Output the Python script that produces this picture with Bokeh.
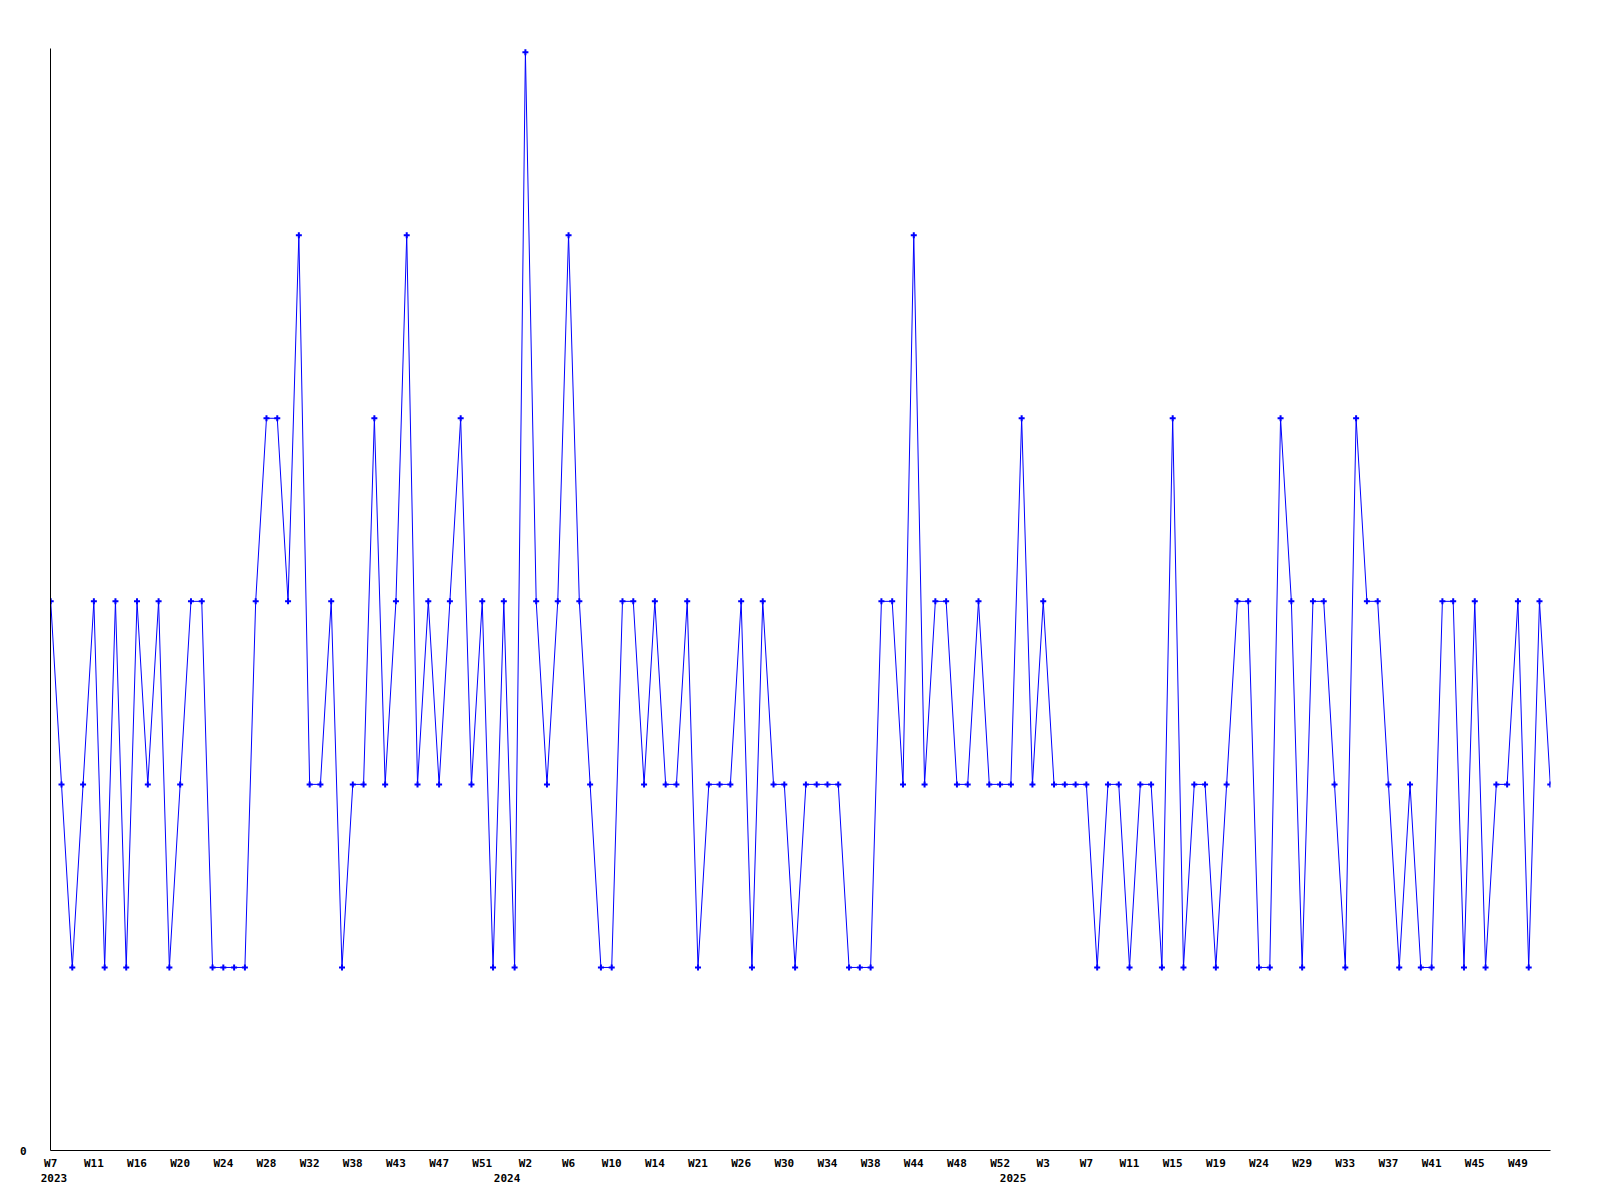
from bokeh.plotting import figure
from bokeh.models import Range1d, FixedTicker, ColumnDataSource, LinearAxis
from bokeh.embed import file_html
from bokeh.resources import INLINE

# weekly values, 2023 W7 onwards (140 samples)
values = [
    3, 2, 1, 2, 3, 1, 3, 1, 3, 2, 3, 1, 2, 3, 3, 1, 1, 1, 1, 3, 4, 4, 3, 5, 2,
    2, 3, 1, 2, 2, 4, 2, 3, 5, 2, 3, 2, 3, 4, 2, 3, 1, 3, 1, 6, 3, 2, 3, 5,
    3, 2, 1, 1, 3, 3, 2, 3, 2, 2, 3, 1, 2, 2, 2, 3, 1, 3, 2, 2, 1, 2, 2, 2,
    2, 1, 1, 1, 3, 3, 2, 5, 2, 3, 3, 2, 2, 3, 2, 2, 2, 4, 2, 3, 2, 2, 2, 2,
    1, 2, 2, 1, 2, 2, 1, 4, 1, 2, 2, 1, 2, 3, 3, 1, 1, 4, 3, 1, 3, 3, 2, 1,
    4, 3, 3, 2, 1, 2, 1, 1, 3, 3, 1, 3, 1, 2, 2, 3, 1, 3, 2,
]

tick_labels = [
    "W7", "W11", "W16", "W20", "W24", "W28", "W32", "W38", "W43", "W47", "W51",
    "W2", "W6", "W10", "W14", "W21", "W26", "W30", "W34", "W38", "W44", "W48", "W52",
    "W3", "W7", "W11", "W15", "W19", "W24", "W29", "W33", "W37", "W41", "W45", "W49",
]
tick_step = 4
year_labels = ["2023", "2024", "2025"]
year_positions = [0.3, 42.3, 89.2]   # along the sample index, where each year starts

x = list(range(len(values)))
src = ColumnDataSource(data=dict(x=x, y=values))

p = figure(width=1590, height=1190, output_backend="svg", toolbar_location=None,
           x_range=Range1d(-0.02, len(values) - 1 + 0.02),
           y_range=Range1d(0, 6.02),
           min_border_left=50, min_border_right=40, min_border_top=48,
           min_border_bottom=40)
p.outline_line_color = None
p.xgrid.visible = False
p.ygrid.visible = False
p.background_fill_color = "white"

p.line("x", "y", source=src, line_color="#0000ff", line_width=1)
p.scatter("x", "y", source=src, marker="cross", size=6, line_color="#0000ff",
          line_width=2)

ticks = [i * tick_step for i in range(len(tick_labels))]
p.xaxis.ticker = FixedTicker(ticks=ticks)
p.xaxis.major_label_overrides = {t: lab for t, lab in zip(ticks, tick_labels)}
p.yaxis.ticker = FixedTicker(ticks=[0])

year_axis = LinearAxis(ticker=FixedTicker(ticks=year_positions),
                       major_label_overrides={t: lab for t, lab in zip(year_positions, year_labels)})
p.add_layout(year_axis, "below")

for ax in (p.xaxis[0], year_axis, p.yaxis[0]):
    ax.major_tick_out = 0
    ax.major_tick_in = 0
    ax.minor_tick_out = 0
    ax.minor_tick_in = 0
    ax.major_label_text_font = "DejaVu Sans Mono"
    ax.major_label_text_font_style = "bold"
    ax.major_label_text_font_size = "11px"
    ax.major_label_text_color = "black"

for ax in (p.xaxis[0], p.yaxis[0]):
    ax.axis_line_color = "black"
    ax.axis_line_width = 1
year_axis.axis_line_color = None

p.xaxis[0].major_label_standoff = 6
year_axis.major_label_standoff = 1
p.yaxis[0].major_label_standoff = 24

open("out.html", "w").write(file_html(p, INLINE))
